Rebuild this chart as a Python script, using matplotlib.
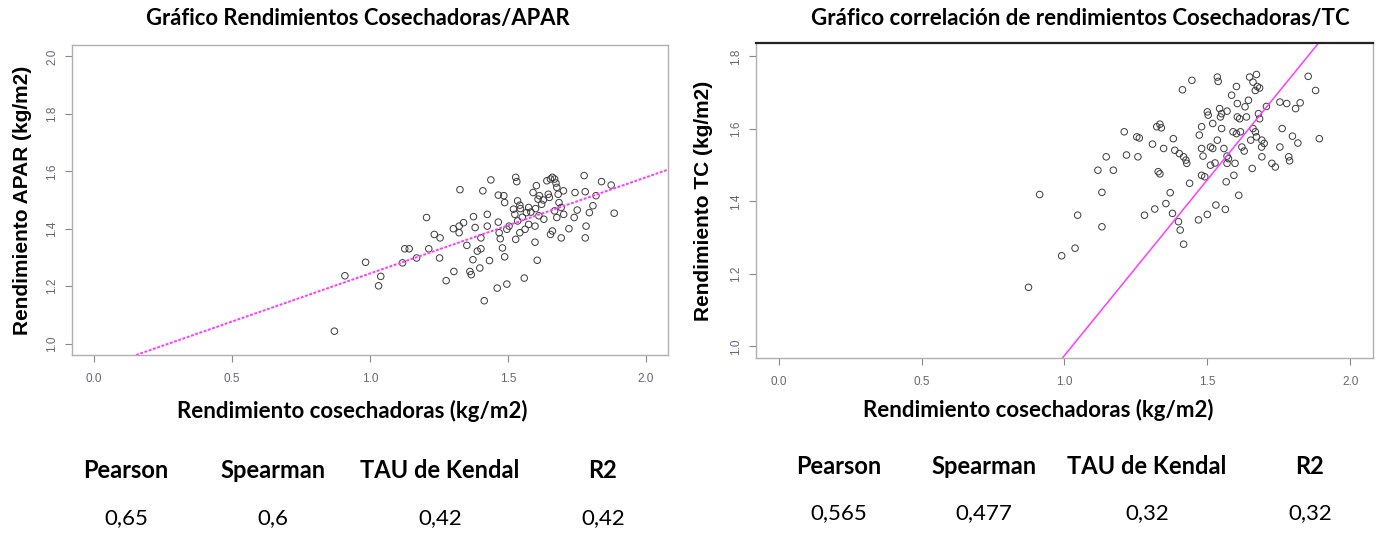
import matplotlib
matplotlib.use('Agg')
import matplotlib.pyplot as plt

# rendimiento cosechadoras vs APAR (grafico izquierdo)
apar_x = [0.871, 0.909, 0.984, 1.031, 1.039, 1.118, 1.126, 1.142, 1.169, 1.205,
          1.213, 1.233, 1.254, 1.252, 1.276, 1.304, 1.326, 1.302, 1.323, 1.339,
          1.323, 1.351, 1.362, 1.367, 1.375, 1.381, 1.373, 1.389, 1.402, 1.398,
          1.402, 1.409, 1.414, 1.425, 1.425, 1.433, 1.438, 1.465, 1.465, 1.468,
          1.472, 1.461, 1.480, 1.485, 1.488, 1.496, 1.496, 1.504, 1.488, 1.528,
          1.532, 1.528, 1.520, 1.535, 1.543, 1.535, 1.543, 1.559, 1.567, 1.575,
          1.583, 1.562, 1.575, 1.591, 1.603, 1.598, 1.606, 1.598, 1.609, 1.622,
          1.614, 1.630, 1.641, 1.654, 1.661, 1.646, 1.650, 1.669, 1.674, 1.677,
          1.654, 1.661, 1.669, 1.677, 1.685, 1.693, 1.693, 1.701, 1.721, 1.743,
          1.740, 1.751, 1.776, 1.780, 1.780, 1.783, 1.795, 1.808, 1.819, 1.839,
          1.874, 1.885, 1.525, 1.552, 1.600, 1.628, 1.682, 1.702, 1.545, 1.612]
apar_y = [1.043, 1.236, 1.283, 1.201, 1.234, 1.281, 1.330, 1.330, 1.298, 1.439,
          1.330, 1.380, 1.368, 1.298, 1.219, 1.251, 1.536, 1.400, 1.386, 1.421,
          1.409, 1.342, 1.251, 1.240, 1.442, 1.404, 1.292, 1.322, 1.330, 1.263,
          1.368, 1.532, 1.149, 1.450, 1.409, 1.289, 1.570, 1.517, 1.423, 1.386,
          1.365, 1.193, 1.333, 1.515, 1.302, 1.207, 1.398, 1.409, 1.491, 1.579,
          1.564, 1.363, 1.468, 1.497, 1.482, 1.427, 1.386, 1.228, 1.456, 1.474,
          1.458, 1.398, 1.415, 1.526, 1.550, 1.353, 1.290, 1.409, 1.503, 1.485,
          1.515, 1.433, 1.567, 1.573, 1.579, 1.520, 1.509, 1.573, 1.559, 1.544,
          1.380, 1.392, 1.462, 1.439, 1.491, 1.474, 1.368, 1.532, 1.400, 1.526,
          1.439, 1.465, 1.585, 1.529, 1.368, 1.409, 1.456, 1.480, 1.515, 1.564,
          1.552, 1.454, 1.450, 1.440, 1.470, 1.500, 1.520, 1.450, 1.470, 1.445]

# rendimiento cosechadoras vs TC (grafico derecho)
tc_x = [0.874, 0.913, 0.990, 1.037, 1.046, 1.117, 1.131, 1.131, 1.146, 1.171,
        1.209, 1.217, 1.253, 1.262, 1.257, 1.280, 1.308, 1.316, 1.323, 1.334,
        1.339, 1.328, 1.334, 1.347, 1.355, 1.370, 1.378, 1.381, 1.386, 1.402,
        1.417, 1.425, 1.428, 1.399, 1.405, 1.413, 1.417, 1.438, 1.446, 1.469,
        1.472, 1.480, 1.480, 1.480, 1.491, 1.485, 1.500, 1.503, 1.500, 1.511,
        1.519, 1.511, 1.519, 1.527, 1.530, 1.535, 1.538, 1.535, 1.543, 1.546,
        1.550, 1.550, 1.558, 1.563, 1.566, 1.569, 1.574, 1.569, 1.569, 1.585,
        1.590, 1.593, 1.597, 1.602, 1.602, 1.616, 1.605, 1.605, 1.610, 1.613,
        1.621, 1.629, 1.632, 1.637, 1.644, 1.648, 1.660, 1.652, 1.657, 1.660,
        1.668, 1.672, 1.668, 1.675, 1.683, 1.672, 1.679, 1.683, 1.690, 1.691,
        1.699, 1.691, 1.707, 1.726, 1.738, 1.754, 1.762, 1.754, 1.778, 1.785,
        1.788, 1.798, 1.809, 1.817, 1.825, 1.853, 1.879, 1.892]
tc_y = [1.163, 1.419, 1.250, 1.271, 1.362, 1.486, 1.425, 1.330, 1.523, 1.486,
        1.592, 1.528, 1.578, 1.575, 1.523, 1.362, 1.558, 1.379, 1.606, 1.613,
        1.603, 1.482, 1.476, 1.546, 1.394, 1.424, 1.367, 1.573, 1.541, 1.532,
        1.523, 1.514, 1.505, 1.344, 1.321, 1.708, 1.282, 1.450, 1.734, 1.349,
        1.583, 1.606, 1.546, 1.472, 1.468, 1.525, 1.364, 1.638, 1.647, 1.550,
        1.546, 1.500, 1.615, 1.506, 1.390, 1.743, 1.731, 1.569, 1.656, 1.633,
        1.642, 1.601, 1.546, 1.378, 1.454, 1.525, 1.518, 1.505, 1.649, 1.693,
        1.592, 1.472, 1.505, 1.717, 1.587, 1.592, 1.670, 1.633, 1.417, 1.628,
        1.550, 1.539, 1.661, 1.633, 1.679, 1.743, 1.729, 1.569, 1.491, 1.601,
        1.592, 1.578, 1.706, 1.717, 1.713, 1.750, 1.642, 1.628, 1.550, 1.569,
        1.560, 1.523, 1.662, 1.505, 1.495, 1.550, 1.601, 1.674, 1.670, 1.523,
        1.512, 1.580, 1.656, 1.561, 1.672, 1.745, 1.706, 1.573]

# rectas de ajuste (intercepto, pendiente)
apar_fit = (0.909, 0.335)
tc_fit = (0.006, 0.969)

headers = ['Pearson', 'Spearman', 'TAU de Kendal', 'R2']
apar_stats = ['0,65', '0,6', '0,42', '0,42']
tc_stats = ['0,565', '0,477', '0,32', '0,32']

xticks = [0.0, 0.5, 1.0, 1.5, 2.0]
apar_yticks = [1.0, 1.2, 1.4, 1.6, 1.8, 2.0]
tc_yticks = [1.0, 1.2, 1.4, 1.6, 1.8]

W, H = 1384, 533
fig = plt.figure(figsize=(W / 100, H / 100), dpi=100)

title_font = ['Lato', 'DejaVu Sans']
r_font = ['Liberation Sans', 'DejaVu Sans']


def setup_axes(ax, yticks, ylim):
    ax.set_xlim(-0.08, 2.08)
    ax.set_ylim(*ylim)
    ax.set_xticks(xticks)
    ax.set_xticklabels(['%.1f' % t for t in xticks])
    ax.set_yticks(yticks)
    ax.set_yticklabels(['%.1f' % t for t in yticks], rotation=90, va='center')
    ax.tick_params(axis='both', colors='#888888', labelcolor='#666677',
                   labelsize=8.5, length=5, width=0.8, direction='out')
    ax.tick_params(axis='x', pad=8)
    ax.tick_params(axis='y', pad=5)
    for lbl in ax.get_xticklabels() + ax.get_yticklabels():
        lbl.set_family(r_font)
    for s in ax.spines.values():
        s.set_color('#b0b0b0')
        s.set_linewidth(1.0)


# grafico izquierdo
ax1 = fig.add_axes([72 / W, 1 - 355 / H, 596 / W, 310 / H])
ax1.scatter(apar_x, apar_y, s=22, facecolors='none', edgecolors='#3a3a3a', linewidths=0.7)
ax1.axline((0, apar_fit[0]), slope=apar_fit[1], color='#ff3cff', lw=1.4,
           linestyle=(0, (1.5, 0.8)))
setup_axes(ax1, apar_yticks, (0.96, 2.04))
ax1.set_ylabel('Rendimiento APAR (kg/m2)', family=r_font, fontweight='bold',
               fontsize=15, labelpad=10)

# grafico derecho
ax2 = fig.add_axes([756 / W, 1 - 358 / H, 617 / W, 315 / H])
ax2.scatter(tc_x, tc_y, s=22, facecolors='none', edgecolors='#3a3a3a', linewidths=0.7)
ax2.axline((0, tc_fit[0]), slope=tc_fit[1], color='#ff3cff', lw=1.1)
setup_axes(ax2, tc_yticks, (0.968, 1.837))
ax2.spines['top'].set_color('#222222')
ax2.spines['top'].set_linewidth(1.6)
ax2.set_ylabel('Rendimiento TC (kg/m2)', family=r_font, fontweight='bold',
               fontsize=15, labelpad=12)

# titulos y etiquetas del eje x
fig.text(358 / W, 1 - 18 / H, 'Gráfico Rendimientos Cosechadoras/APAR', family=title_font,
         fontweight='bold', fontsize=15.8, ha='center', va='center')
fig.text(1080 / W, 1 - 18 / H, 'Gráfico correlación de rendimientos Cosechadoras/TC',
         family=title_font, fontweight='bold', fontsize=16, ha='center', va='center')
fig.text(352 / W, 1 - 411 / H, 'Rendimiento cosechadoras (kg/m2)', family=title_font,
         fontweight='bold', fontsize=16, ha='center', va='center')
fig.text(1038 / W, 1 - 410 / H, 'Rendimiento cosechadoras (kg/m2)', family=title_font,
         fontweight='bold', fontsize=16, ha='center', va='center')

# tablas de correlacion
left_cols = [126, 273, 440, 603]
right_cols = [839, 984, 1147, 1310]
for i in range(4):
    fig.text(left_cols[i] / W, 1 - 471 / H, headers[i], family=title_font, fontweight='bold',
             fontsize=17, ha='center', va='center')
    fig.text(left_cols[i] / W, 1 - 518 / H, apar_stats[i], family=title_font,
             fontsize=16, ha='center', va='center')
    fig.text(right_cols[i] / W, 1 - 467 / H, headers[i], family=title_font, fontweight='bold',
             fontsize=17, ha='center', va='center')
    fig.text(right_cols[i] / W, 1 - 513 / H, tc_stats[i], family=title_font,
             fontsize=16, ha='center', va='center')

fig.savefig('out.png', dpi=100)
